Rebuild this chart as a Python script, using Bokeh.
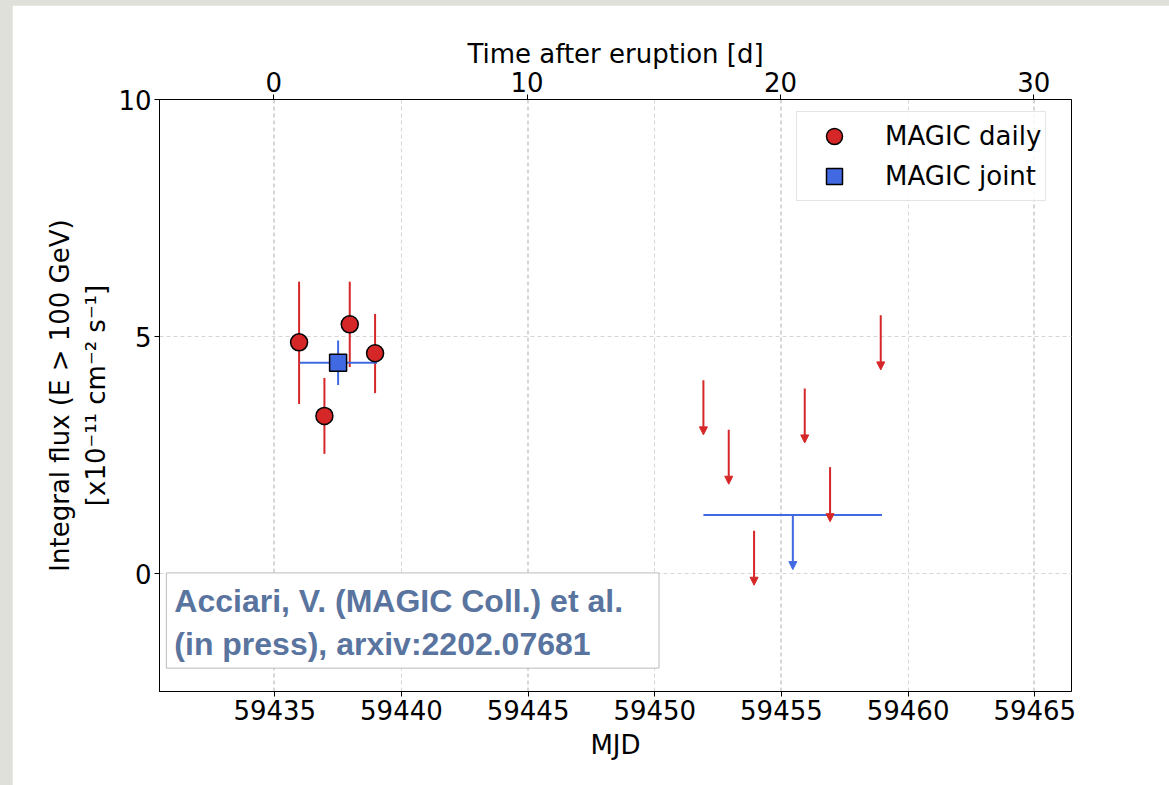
import numpy as np
from bokeh.plotting import figure
from bokeh.models import (Range1d, LinearAxis, SingleIntervalTicker, Grid, Legend,
                          LegendItem, Label, Arrow, NormalHead, ColumnDataSource,
                          GlobalInlineStyleSheet)
from bokeh.embed import file_html
from bokeh.resources import INLINE

# ---------------- data ----------------
daily_mjd = [59435.96, 59436.96, 59437.96, 59438.96]
daily_flux = [4.88, 3.33, 5.26, 4.65]
daily_err_lo = [1.30, 0.80, 0.90, 0.84]
daily_err_hi = [1.28, 0.80, 0.90, 0.83]

joint_mjd = [59437.50]
joint_flux = [4.45]
joint_err = [0.47]
joint_mjd_start = [59435.99]
joint_mjd_end = [59439.04]

ul_mjd = [59451.92, 59452.92, 59453.92, 59455.92, 59456.92, 59458.92]
ul_flux = [4.08, 3.04, 0.91, 3.91, 2.25, 5.45]

joint_ul_mjd = [59455.45]
joint_ul_flux = [1.24]
joint_ul_start = [59451.92]
joint_ul_end = [59458.97]

eruption_mjd = 59434.96

x_ticks_mjd_step = 5
top_ticks_step = 10
y_ticks_step = 5

# ---------------- styles ----------------
RED = "#d62728"
BLUE = "#4169e1"
ARROW_LEN = 1.15
FONT = "DejaVu Sans"
FS = "26px"

X0, X1 = 59430.45, 59466.45
Y0, Y1 = -2.48, 10.0

p = figure(width=1157, height=780, x_range=Range1d(X0, X1), y_range=Range1d(Y0, Y1),
           output_backend="svg", toolbar_location=None,
           min_border_left=147, min_border_right=98, min_border_top=94, min_border_bottom=94,
           x_axis_label="MJD",
           y_axis_label="Integral flux (E > 100 GeV)\n[x10\u207b\u00b9\u00b9 cm\u207b\u00b2 s\u207b\u00b9]",
           margin=(5, 0, 0, 12))
p.stylesheets = [GlobalInlineStyleSheet(css="body { background: #e0e0da; margin: 0; }")]
p.background_fill_color = "white"
p.border_fill_color = "white"
p.outline_line_color = "black"
p.outline_line_width = 1
p.outline_line_alpha = 1.0

bottom_axis = p.below[0]
left_axis = p.left[0]
xgrid = p.xgrid[0]
ygrid = p.ygrid[0]

# top axis (time after eruption)
p.extra_x_ranges = {"t": Range1d(X0 - eruption_mjd, X1 - eruption_mjd)}
top_axis = LinearAxis(x_range_name="t", axis_label="Time after eruption [d]",
                      ticker=SingleIntervalTicker(interval=top_ticks_step, num_minor_ticks=0))
p.add_layout(top_axis, "above")

xt = SingleIntervalTicker(interval=x_ticks_mjd_step, num_minor_ticks=0)
yt = SingleIntervalTicker(interval=y_ticks_step, num_minor_ticks=0)
bottom_axis.ticker = xt
xgrid.ticker = xt
left_axis.ticker = yt
ygrid.ticker = yt

for ax in [bottom_axis, left_axis, top_axis]:
    ax.major_label_text_font = FONT
    ax.major_label_text_font_size = FS
    ax.major_label_text_color = "black"
    ax.axis_label_text_font = FONT
    ax.axis_label_text_font_size = FS
    ax.axis_label_text_font_style = "normal"
    ax.axis_label_text_color = "black"
    ax.minor_tick_line_color = None
    ax.major_tick_in = 0
    ax.major_tick_out = 5
    ax.major_tick_line_color = "black"
    ax.axis_line_color = "black"
    ax.major_label_standoff = 3
    ax.axis_label_standoff = 4
top_axis.axis_label_standoff = 0
bottom_axis.axis_label_standoff = 7

top_grid = Grid(dimension=0, ticker=top_axis.ticker, x_range_name="t")
p.add_layout(top_grid)
for g in [xgrid, ygrid, top_grid]:
    g.grid_line_color = "#d6d6d6"
    g.grid_line_dash = "4 3"
    g.grid_line_width = 1

# ---------------- daily points ----------------
dsrc = ColumnDataSource(dict(
    x=daily_mjd, y=daily_flux,
    lo=[f - e for f, e in zip(daily_flux, daily_err_lo)],
    hi=[f + e for f, e in zip(daily_flux, daily_err_hi)]))
p.segment(x0="x", y0="lo", x1="x", y1="hi", source=dsrc, line_color=RED, line_width=2)

# ---------------- joint point ----------------
jsrc = ColumnDataSource(dict(
    x=joint_mjd, y=joint_flux,
    lo=[f - e for f, e in zip(joint_flux, joint_err)],
    hi=[f + e for f, e in zip(joint_flux, joint_err)],
    xs=joint_mjd_start, xe=joint_mjd_end))
p.segment(x0="x", y0="lo", x1="x", y1="hi", source=jsrc, line_color=BLUE, line_width=2)
p.segment(x0="xs", y0="y", x1="xe", y1="y", source=jsrc, line_color=BLUE, line_width=2)

r_daily = p.scatter(x="x", y="y", source=dsrc, marker="circle", size=17,
                    fill_color=RED, line_color="black", line_width=1.5)
r_joint = p.scatter(x="x", y="y", source=jsrc, marker="square", size=17,
                    fill_color=BLUE, line_color="black", line_width=1.5)

# ---------------- upper limits ----------------
usrc = ColumnDataSource(dict(x=ul_mjd, y0=ul_flux, y1=[u - ARROW_LEN for u in ul_flux]))
p.add_layout(Arrow(end=NormalHead(size=8, fill_color=RED, line_color=RED, line_width=1),
                   x_start="x", y_start="y0", x_end="x", y_end="y1", source=usrc,
                   line_color=RED, line_width=2))

jusrc = ColumnDataSource(dict(x=joint_ul_mjd, y0=joint_ul_flux,
                              y1=[u - ARROW_LEN for u in joint_ul_flux],
                              xs=joint_ul_start, xe=joint_ul_end))
p.segment(x0="xs", y0="y0", x1="xe", y1="y0", source=jusrc, line_color=BLUE, line_width=2)
p.add_layout(Arrow(end=NormalHead(size=8, fill_color=BLUE, line_color=BLUE, line_width=1),
                   x_start="x", y_start="y0", x_end="x", y_end="y1", source=jusrc,
                   line_color=BLUE, line_width=2))

# ---------------- legend ----------------
legend = Legend(items=[LegendItem(label="MAGIC daily", renderers=[r_daily]),
                       LegendItem(label="MAGIC joint", renderers=[r_joint])],
                location=(637, 490), margin=0, padding=4, spacing=0,
                glyph_width=66, glyph_height=40, label_standoff=18,
                label_text_font=FONT, label_text_font_size=FS, label_text_color="black",
                border_line_color="#cccccc", border_line_width=1,
                background_fill_color="white", background_fill_alpha=0.85)
p.add_layout(legend)

# ---------------- reference box ----------------
ref = Label(x=59430.72, y=0.02, anchor="top_left",
            text="Acciari, V. (MAGIC Coll.) et al.\n(in press), arxiv:2202.07681",
            text_font="Liberation Sans", text_font_style="bold", text_font_size="32px",
            text_color="#5a74a0", background_fill_color="white",
            border_line_color="#bbbbbb", border_line_width=1,
            padding=(8, 36, 10, 6))
p.add_layout(ref)

open("out.html", "w").write(file_html(p, INLINE))
